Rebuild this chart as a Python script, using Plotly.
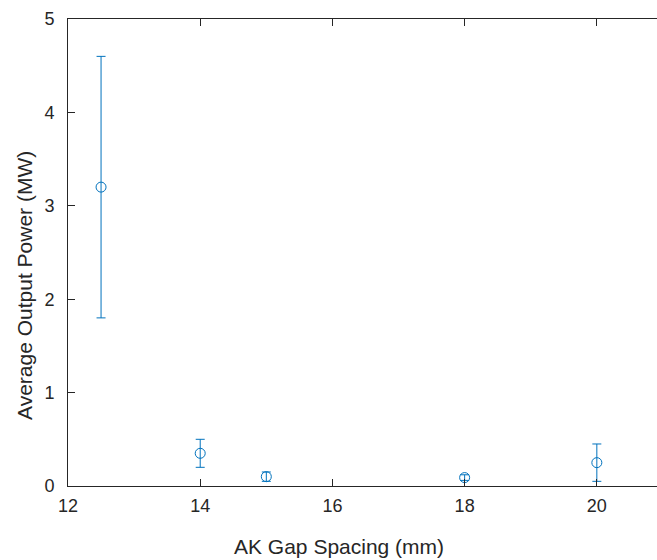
import plotly.graph_objects as go

# Measured output power vs. anode-cathode gap spacing
gap_mm = [12.5, 14, 15, 18, 20]
power_mw = [3.2, 0.35, 0.10, 0.09, 0.25]
power_err = [1.4, 0.15, 0.05, 0.03, 0.20]

x_ticks = [12, 14, 16, 18, 20]
y_ticks = [0, 1, 2, 3, 4, 5]

blue = "#0072BD"
ink = "#262626"
font_family = "Liberation Sans, Arial, sans-serif"

fig = go.Figure(
    go.Scatter(
        x=gap_mm,
        y=power_mw,
        mode="markers",
        marker=dict(symbol="circle-open", size=10, color=blue, line=dict(width=1, color=blue)),
        error_y=dict(type="data", array=power_err, symmetric=True,
                     color=blue, thickness=1, width=4.5),
        showlegend=False,
    )
)

W, H = 657, 560
ml, mr, mt, mb = 68, 0, 19, 74
pw, ph = W - ml - mr, H - mt - mb

def px_to_paper_x(px):
    return (px - ml) / pw

def px_to_paper_y(py):
    return (H - mb - py) / ph

axis_common = dict(
    showgrid=False,
    zeroline=False,
    showline=True,
    linecolor=ink,
    linewidth=1,
    ticks="inside",
    ticklen=7,
    tickwidth=1,
    tickcolor=ink,
    tickfont=dict(family=font_family, size=18, color=ink),
)

fig.update_layout(
    width=W,
    height=H,
    margin=dict(l=ml, r=mr, t=mt, b=mb),
    paper_bgcolor="white",
    plot_bgcolor="white",
    xaxis=dict(range=[12, 20.91], tickvals=x_ticks, mirror="ticks",
               ticklabelstandoff=3, **axis_common),
    yaxis=dict(range=[0, 5], tickvals=y_ticks, mirror=False,
               ticklabelstandoff=9, **axis_common),
    annotations=[
        dict(text="AK Gap Spacing (mm)", xref="paper", yref="paper",
             x=px_to_paper_x(339), y=px_to_paper_y(546),
             xanchor="center", yanchor="middle", showarrow=False,
             font=dict(family=font_family, size=21, color=ink)),
        dict(text="Average Output Power (MW)", xref="paper", yref="paper",
             x=px_to_paper_x(24), y=px_to_paper_y(286), textangle=-90,
             xanchor="center", yanchor="middle", showarrow=False,
             font=dict(family=font_family, size=21, color=ink)),
    ],
)

fig.write_html("out.html")
